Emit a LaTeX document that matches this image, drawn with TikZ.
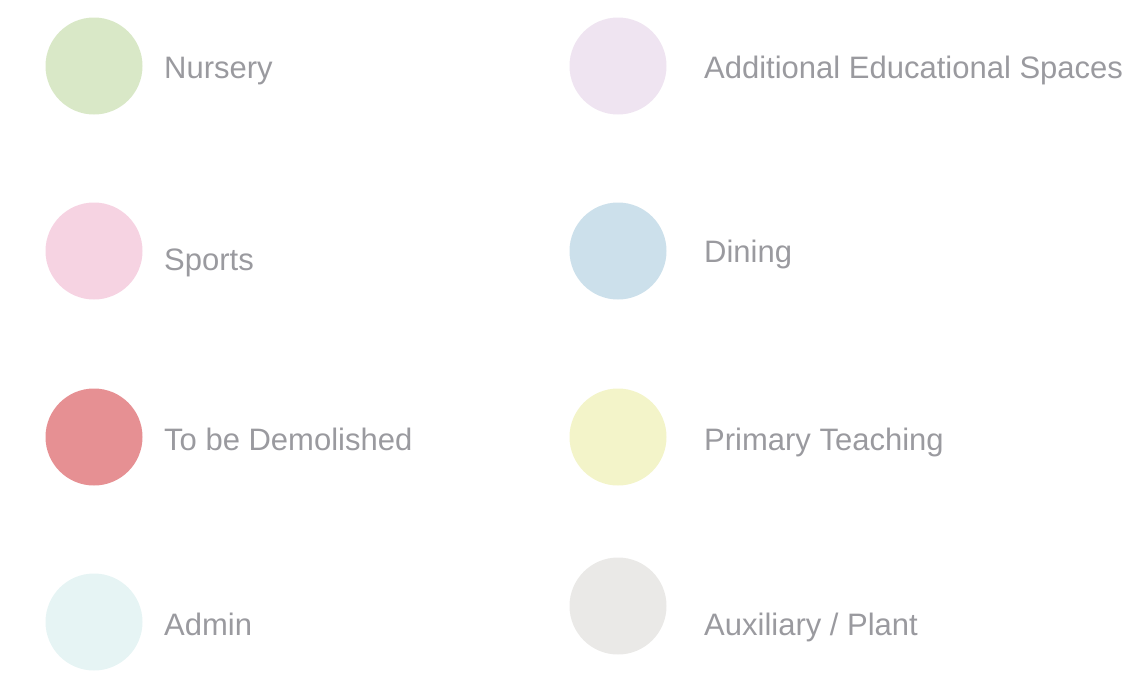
\documentclass[tikz,border=0pt]{standalone}
\usepackage{fontspec}
\setmainfont{Liberation Sans}
\usetikzlibrary{positioning}
\definecolor{nurserygreen}{HTML}{D9E8C7}
\definecolor{sportspink}{HTML}{F6D3E2}
\definecolor{demolishred}{HTML}{E69093}
\definecolor{admincyan}{HTML}{E6F4F4}
\definecolor{extralilac}{HTML}{EFE4F1}
\definecolor{diningblue}{HTML}{CCE0EB}
\definecolor{primaryyellow}{HTML}{F3F4C9}
\definecolor{auxgrey}{HTML}{EAE9E7}
\definecolor{labelgrey}{HTML}{9A9A9F}
\begin{document}
\begin{tikzpicture}[x=1pt,y=-1pt,
		swatch/.style={circle, minimum size=97pt, inner sep=0pt},
		legendtext/.style={anchor=base west, inner sep=0pt, text=labelgrey, font=\fontsize{31}{37}\selectfont}]
		\useasboundingbox (0,0) rectangle (1145,675);
		% left column
		\node[swatch, fill=nurserygreen] (nursery) at (94,66) {};
		\node[legendtext] (nursery-txt) at (164,78) {Nursery};
		\node[swatch, fill=sportspink] (sports) at (94,251) {};
		\node[legendtext] (sports-txt) at (164,270) {Sports};
		\node[swatch, fill=demolishred] (demolish) at (94,437) {};
		\node[legendtext] (demolish-txt) at (164,450) {To be Demolished};
		\node[swatch, fill=admincyan] (admin) at (94,622) {};
		\node[legendtext] (admin-txt) at (164,635) {Admin};
		% right column
		\node[swatch, fill=extralilac] (extra) at (618,66) {};
		\node[legendtext] (extra-txt) at (704,78) {Additional Educational Spaces};
		\node[swatch, fill=diningblue] (dining) at (618,251) {};
		\node[legendtext] (dining-txt) at (704,262) {Dining};
		\node[swatch, fill=primaryyellow] (primary) at (618,437) {};
		\node[legendtext] (primary-txt) at (704,450) {Primary Teaching};
		\node[swatch, fill=auxgrey] (aux) at (618,606) {};
		\node[legendtext] (aux-txt) at (704,635) {Auxiliary / Plant};
	\end{tikzpicture}
\end{document}
